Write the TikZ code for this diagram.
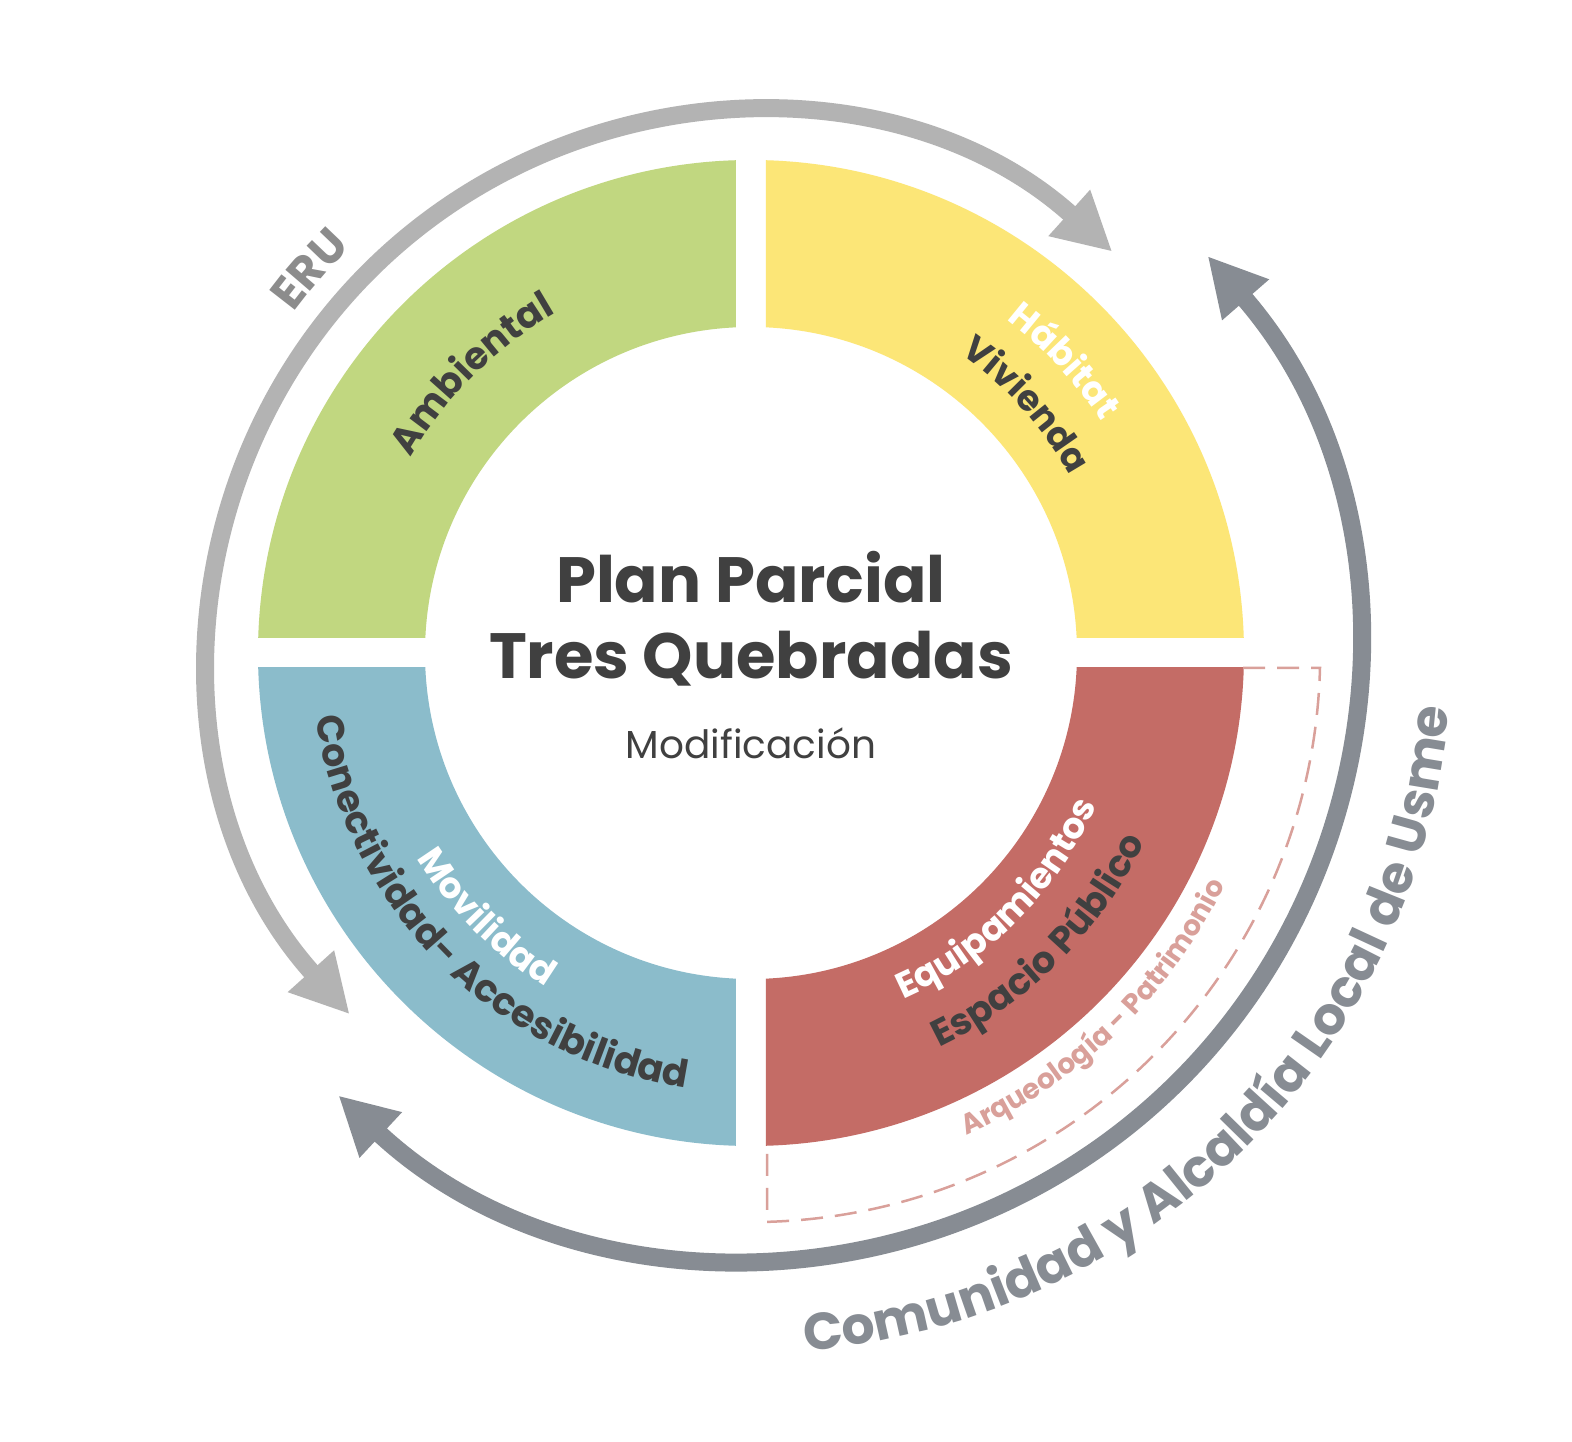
\documentclass[tikz,border=0pt]{standalone}
\usepackage{fontspec}
\setmainfont{Poppins}
\usetikzlibrary{arrows.meta,decorations.text}
\definecolor{cgreen}{HTML}{C1D780}
\definecolor{cyellow}{HTML}{FCE677}
\definecolor{cblue}{HTML}{8BBCCB}
\definecolor{cred}{HTML}{C46C66}
\definecolor{carrow}{HTML}{B3B3B3}
\definecolor{cdark}{HTML}{878C93}
\definecolor{ctext}{HTML}{404040}
\definecolor{cpink}{HTML}{D9A09A}
\definecolor{ceru}{HTML}{8C8C8C}
\tikzset{
  bigarc/.style={line width=18pt,{Triangle[length=58pt,width=58pt]}-{Triangle[length=58pt,width=58pt]}},
  ctxt/.style={decorate,decoration={text along path,text align=center,text={#1}}}
}
\newcommand{\fz}[1]{\bfseries\fontsize{#1}{#1}\selectfont}
\begin{document}
\begin{tikzpicture}[x=1pt,y=1pt]
\useasboundingbox[fill=white] (-751,-789) rectangle (821,653);
% quadrants
\foreach \c/\xa/\ya in {cyellow/15/15, cgreen/-600/15, cblue/-600/-600, cred/15/-600}{
  \begin{scope}
    \clip (\xa,\ya) rectangle ++(585,585);
    \fill[\c,even odd rule] (0,0) circle[radius=493] (0,0) circle[radius=326];
  \end{scope}
}
% arrows
\draw[bigarc,carrow] (222:540) arc[start angle=222,end angle=48,radius=540];
\draw[bigarc,cdark] (41:605) arc[start angle=41,end angle=-133,radius=605];
% dashed
\draw[cpink,line width=2.5pt,dash pattern=on 22pt off 12pt] (492,-15) -- (569,-15) arc[start angle=-1.5,end angle=-88.4,radius=569] -- (16,-494);
% center
\node[ctext,font=\fz{64}] (title1) at (0,76) {Plan Parcial};
\node[ctext,font=\fz{64}] (title2) at (0,-6) {Tres Quebradas};
\node[ctext,font=\fontsize{39}{39}\selectfont] (mod) at (0,-90) {Modificación};
% curved labels
\path[ctxt={|\fz{38}\color{ctext}|Ambiental}] (158:392) arc[start angle=158,end angle=112,radius=392];
\path[ctxt={|\fz{36}\color{white}|Hábitat}] (64:420) arc[start angle=64,end angle=22,radius=420];
\path[ctxt={|\fz{36}\color{ctext}|Vivienda}] (64:365) arc[start angle=64,end angle=20,radius=365];
\path[ctxt={|\fz{36}\color{white}|Movilidad}] (200:392) arc[start angle=200,end angle=250,radius=392];
\path[ctxt={|\fz{38}\color{ctext}|Conectividad- Accesibilidad}] (183:440) arc[start angle=183,end angle=267,radius=440];
\path[ctxt={|\fz{36}\color{white}|Equipamientos}] (-75:378) arc[start angle=-75,end angle=-15,radius=378];
\path[ctxt={|\fz{37}\color{ctext}|Espacio Público}] (-75:437) arc[start angle=-75,end angle=-15,radius=437];
\path[ctxt={|\fz{28}\color{cpink}|Arqueología - Patrimonio}] (-76:528) arc[start angle=-76,end angle=-16,radius=528];
\path[ctxt={|\fz{46}\color{ceru}|ERU}] (150:570) arc[start angle=150,end angle=128,radius=570];
\path[ctxt={|\fz{52}\color{cdark}|Comunidad y Alcaldía Local de Usme}] (-93:700) arc[start angle=-93,end angle=3,radius=700];
\end{tikzpicture}
\end{document}
